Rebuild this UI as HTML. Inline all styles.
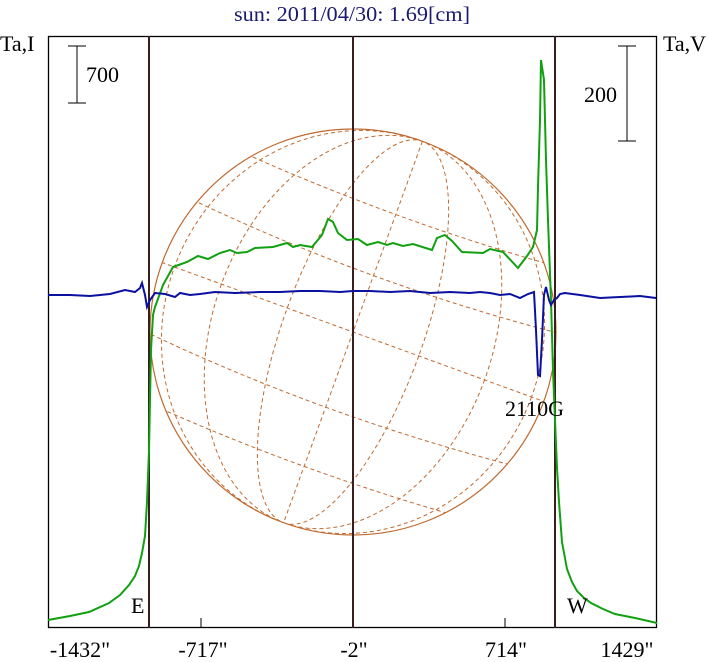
<!DOCTYPE html>
<html><head><meta charset="utf-8"><style>
html,body{margin:0;padding:0;background:#fff;}
svg{display:block;font-family:"Liberation Serif",serif;}
</style></head><body>
<svg width="708" height="662" viewBox="0 0 708 662" xmlns="http://www.w3.org/2000/svg">
<rect width="708" height="662" fill="#fff"/>
<text x="352" y="21" text-anchor="middle" font-size="21" fill="#1a1a6e" textLength="236" lengthAdjust="spacingAndGlyphs">sun: 2011/04/30: 1.69[cm]</text>
<text x="0" y="51" font-size="22" fill="#000">Ta,I</text>
<text x="663" y="51" font-size="22" fill="#000">Ta,V</text>
<defs><clipPath id="c"><circle cx="353" cy="332" r="203"/></clipPath></defs>
<g clip-path="url(#c)" fill="none" stroke="#c06a30" stroke-width="1" stroke-dasharray="4,3">
<g transform="rotate(20 353 332)">
<line x1="100" y1="332" x2="610" y2="332"/>
<path d="M150,262 Q353,282 556,262"/>
<path d="M150,198 Q353,216 556,198"/>
<path d="M150,402 Q353,422 556,402"/>
<path d="M150,466 Q353,484 556,466"/>
<path d="M353,129 L353,535"/>
<ellipse cx="353" cy="332" rx="70" ry="203"/>
<ellipse cx="353" cy="332" rx="140" ry="203"/>
<ellipse cx="353" cy="332" rx="190" ry="203"/>
</g></g>
<circle cx="353" cy="332" r="203" fill="none" stroke="#c06a30" stroke-width="1.2"/>
<rect x="48.5" y="36.5" width="608" height="591" fill="none" stroke="#000" stroke-width="1.3"/>
<g stroke="#3a1e1e" stroke-width="2">
<line x1="149" y1="36" x2="149" y2="628"/>
<line x1="353" y1="36" x2="353" y2="628"/>
<line x1="555" y1="36" x2="555" y2="628"/>
</g>
<g stroke="#000" stroke-width="1">
<line x1="201" y1="618" x2="201" y2="628"/>
<line x1="505" y1="618" x2="505" y2="628"/>
<line x1="77" y1="46" x2="77" y2="103"/><line x1="68" y1="46" x2="86" y2="46"/><line x1="68" y1="103" x2="86" y2="103"/>
<line x1="627" y1="46" x2="627" y2="141"/><line x1="618" y1="46" x2="636" y2="46"/><line x1="618" y1="141" x2="636" y2="141"/>
</g>
<text x="86" y="82" font-size="22">700</text>
<text x="584" y="102" font-size="22">200</text>
<polyline fill="none" stroke="#10a010" stroke-width="2" points="48,620 70,616 89,612 109,603 120,595 129,585 135,576 139,566 142,553 145,536 147,502 149,451 150,400 151,350 153,315 155,307 163,285 173,267 187,262 198,256 208,259 220,253 230,250 237,253 247,252 255,248 273,247 287,243 293,247 300,245 312,247 322,235 328,219 333,222 338,233 347,240 358,239 367,245 378,242 387,245 393,243 403,246 413,244 432,250 437,238 445,235 452,241 462,252 483,253 490,249 503,252 518,268 527,256 533,247 537,230 538,187 540,120 541,60 544,80 546,160 548,220 551,300 553,370 555,420 557,468 559,502 562,542 567,569 572,582 577,591 584,598 591,603 603,609 615,614 635,618 657,623"/>
<polyline fill="none" stroke="#0a10a0" stroke-width="2" points="48,295 70,295 90,296 110,294 125,290 135,292 140,288 142,283 145,295 147,307 150,300 155,293 165,294 175,297 180,293 190,295 200,294 215,292 235,293 260,292 280,292 300,291 320,291 340,292 353,291 370,291 390,292 410,291 430,293 450,292 470,293 480,292 490,293 500,295 510,294 520,298 528,294 534,292 536,330 538,375 540,376 542,340 544,295 546,287 549,300 551,305 554,300 557,298 560,294 565,293 580,295 600,298 620,297 640,296 656,298"/>
<text x="505" y="416" font-size="22">2110G</text>
<text x="131" y="613" font-size="22">E</text>
<text x="567" y="613" font-size="22">W</text>
<g font-size="22" text-anchor="middle">
<text x="80" y="657">-1432"</text>
<text x="203" y="657">-717"</text>
<text x="354" y="657">-2"</text>
<text x="506" y="657">714"</text>
<text x="627" y="657">1429"</text>
</g>
</svg>
</body></html>
